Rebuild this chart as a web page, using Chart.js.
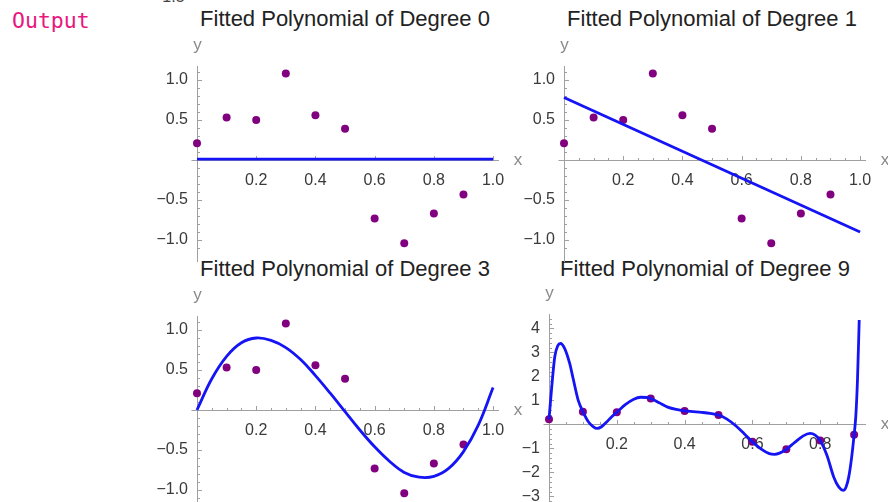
<!DOCTYPE html>
<html>
<head>
<meta charset="utf-8">
<script src="https://cdn.jsdelivr.net/npm/chart.js@4.4.1/dist/chart.umd.min.js"></script>
<style>
    html, body { margin:0; padding:0; background:#fff; }
    body { width:888px; height:502px; overflow:hidden; position:relative; font-family:"Liberation Sans", Arial, sans-serif; }
    .out { position:absolute; left:12px; top:8px; font:21.5px "DejaVu Sans Mono", monospace; color:#e8177f; }
    .cut { position:absolute; left:153px; top:-12px; font:16px "Liberation Sans", Arial, sans-serif; color:#444; }
    .ttl { position:absolute; width:360px; text-align:center; font-size:22px; line-height:26px; color:#222; }
    canvas { position:absolute; }
</style>
</head>
<body>

<div class="out">Output</div>
<div class="cut">−1.5</div>

<div class="ttl" id="title0" style="left:165px; top:6px"></div>
<div class="ttl" id="title1" style="left:532px; top:6px"></div>
<div class="ttl" id="title2" style="left:165px; top:256px"></div>
<div class="ttl" id="title3" style="left:525px; top:256px"></div>

<canvas id="chart0" width="400" height="277" style="left:140px; top:0px"></canvas>
<canvas id="chart1" width="400" height="277" style="left:507px; top:0px"></canvas>
<canvas id="chart2" width="400" height="277" style="left:140px; top:250px"></canvas>
<canvas id="chart3" width="420" height="275" style="left:492px; top:250px"></canvas>

<script>
// =========================
// DATA
// =========================
const titles = [
    "Fitted Polynomial of Degree 0",
    "Fitted Polynomial of Degree 1",
    "Fitted Polynomial of Degree 3",
    "Fitted Polynomial of Degree 9"
]

const xData = [0.0, 0.1, 0.2, 0.3, 0.4, 0.5, 0.6, 0.7, 0.8, 0.9]
const yData = [0.21, 0.53, 0.50, 1.08, 0.56, 0.39, -0.73, -1.04, -0.67, -0.43]

const fit0X = [0, 1]
const fit0Y = [0.01, 0.01]

const fit1X = [0, 1]
const fit1Y = [0.78, -0.90]

const fit3X = [0, 0.05, 0.1, 0.15, 0.2, 0.25, 0.3, 0.35, 0.4, 0.45, 0.5,
               0.55, 0.6, 0.65, 0.7, 0.75, 0.8, 0.85, 0.9, 0.95, 1.0]
const fit3Y = [0, 0.39, 0.67, 0.84, 0.90, 0.87, 0.78, 0.63, 0.43, 0.21, -0.02,
               -0.25, -0.46, -0.64, -0.78, -0.84, -0.83, -0.73, -0.52, -0.19, 0.28]

const fit9X = [0, 0.009, 0.017, 0.026, 0.034, 0.046, 0.061, 0.071, 0.086, 0.1,
               0.116, 0.13, 0.142, 0.155, 0.17, 0.185, 0.2, 0.225, 0.25, 0.27,
               0.29, 0.3, 0.325, 0.35, 0.375, 0.4, 0.425, 0.45, 0.475, 0.5,
               0.525, 0.55, 0.575, 0.6, 0.625, 0.65, 0.665, 0.68, 0.7, 0.725,
               0.75, 0.77, 0.785, 0.8, 0.82, 0.84, 0.855, 0.868, 0.876, 0.884,
               0.892, 0.9, 0.905, 0.91, 0.915]
const fit9Y = [0.21, 1.71, 2.82, 3.28, 3.37, 3.17, 2.54, 1.92, 1.01, 0.53,
               0.11, -0.09, -0.17, -0.10, 0.10, 0.32, 0.50, 0.82, 1.05, 1.13,
               1.12, 1.08, 0.90, 0.72, 0.62, 0.56, 0.53, 0.50, 0.46, 0.39,
               0.22, -0.05, -0.38, -0.73, -1.02, -1.22, -1.25, -1.20, -1.04, -0.75,
               -0.48, -0.38, -0.45, -0.67, -1.30, -2.20, -2.62, -2.75, -2.62, -2.20,
               -1.45, -0.43, 0.35, 1.90, 4.35]

const xTicks = [0.2, 0.4, 0.6, 0.8, 1.0]
const xTicks9 = [0.2, 0.4, 0.6, 0.8]
const yTicks = [-1.0, -0.5, 0.5, 1.0]
const yTicks9 = [-3, -2, -1, 1, 2, 3, 4]

// =========================
// PANEL SETUP
// =========================
// bottom padding has to stay above the y axis label overflow (~19px)
const panels = [
    { fitX: fit0X, fitY: fit0Y, xTicks: xTicks, yTicks: yTicks, yDec: 1, tension: 0,
      xMax: 1.02, yMin: -1.2, yMax: 1.175, xMinor: 0.05, yMinor: 0.1, yMajor: 0.5,
      padding: { left: 17, top: 66, right: 41, bottom: 21 } },
    { fitX: fit1X, fitY: fit1Y, xTicks: xTicks, yTicks: yTicks, yDec: 1, tension: 0,
      xMax: 1.02, yMin: -1.2, yMax: 1.175, xMinor: 0.05, yMinor: 0.1, yMajor: 0.5,
      padding: { left: 17, top: 66, right: 41, bottom: 21 } },
    { fitX: fit3X, fitY: fit3Y, xTicks: xTicks, yTicks: yTicks, yDec: 1, tension: 0.4,
      xMax: 1.02, yMin: -1.2, yMax: 1.175, xMinor: 0.05, yMinor: 0.1, yMajor: 0.5,
      padding: { left: 17, top: 66, right: 41, bottom: 21 } },
    { fitX: fit9X, fitY: fit9Y, xTicks: xTicks9, yTicks: yTicks9, yDec: 0, monotone: true,
      xMax: 0.935, yMin: -3.32, yMax: 4.6, xMinor: 0.05, yMinor: 0.2, yMajor: 1,
      padding: { left: 17, top: 64, right: 46, bottom: 21 } }
]

function fmt(v, dec) {
    return Number(v).toFixed(dec).replace("-", "\u2212")
}

function isMultiple(v, step) {
    const r = Math.abs(v / step - Math.round(v / step))
    return r < 1e-6
}

// axes crossing at the origin, Mathematica style, with major and minor ticks
const mmaAxes = {
    id: "mmaAxes",
    beforeDatasetsDraw(chart, args, opts) {
        const ctx = chart.ctx
        const xs = chart.scales.x
        const ys = chart.scales.y
        const x0 = Math.round(xs.getPixelForValue(0)) + 0.5
        const y0 = Math.round(ys.getPixelForValue(0)) + 0.5

        ctx.save()
        ctx.strokeStyle = "#a0a0a0"
        ctx.lineWidth = 1
        ctx.beginPath()
        ctx.moveTo(x0 - 6, y0)
        ctx.lineTo(xs.right, y0)
        ctx.moveTo(x0, ys.top)
        ctx.lineTo(x0, ys.bottom + 6)

        // x ticks point up
        for (let i = 1; i * opts.xMinor <= xs.max + 1e-9; i++) {
            const v = i * opts.xMinor
            const len = isMultiple(v, 0.2) ? 4.5 : 2.5
            const px = Math.round(xs.getPixelForValue(v)) + 0.5
            ctx.moveTo(px, y0)
            ctx.lineTo(px, y0 - len)
        }
        // y ticks point right
        const yStart = Math.ceil(ys.min / opts.yMinor)
        const yEnd = Math.floor(ys.max / opts.yMinor)
        for (let i = yStart; i <= yEnd; i++) {
            if (i === 0) continue
            const v = i * opts.yMinor
            const len = isMultiple(v, opts.yMajor) ? 4.5 : 2.5
            const py = Math.round(ys.getPixelForValue(v)) + 0.5
            ctx.moveTo(x0, py)
            ctx.lineTo(x0 + len, py)
        }
        ctx.stroke()

        // axis names
        ctx.fillStyle = "#8a8a8a"
        ctx.font = "17px 'Liberation Sans', Arial, sans-serif"
        ctx.textAlign = "center"
        ctx.textBaseline = "middle"
        ctx.fillText("y", x0, ys.top - 21)
        ctx.fillText("x", xs.right + 19, y0)
        ctx.restore()
    }
}

const tickFont = { family: "'Liberation Sans', Arial, sans-serif", size: 16 }

panels.forEach((p, k) => {

    document.getElementById("title" + k).innerText = titles[k]

    const points = xData.map((x, i) => ({ x: x, y: yData[i] }))
    const curve = p.fitX.map((x, i) => ({ x: x, y: p.fitY[i] }))

    new Chart(document.getElementById("chart" + k), {
        type: "scatter",
        data: {
            datasets: [
                {
                    label: "fit",
                    data: curve,
                    showLine: true,
                    pointRadius: 0,
                    borderColor: "#1414f5",
                    borderWidth: 2.8,
                    tension: p.tension || 0,
                    cubicInterpolationMode: p.monotone ? "monotone" : "default",
                    clip: false
                },
                {
                    label: "data",
                    data: points,
                    pointRadius: 4,
                    pointBackgroundColor: "#800080",
                    pointBorderWidth: 0,
                    clip: false
                }
            ]
        },
        options: {
            responsive: false,
            animation: false,
            devicePixelRatio: 1,
            layout: { padding: p.padding },
            plugins: {
                legend: { display: false },
                tooltip: { enabled: false },
                mmaAxes: { xMinor: p.xMinor, yMinor: p.yMinor, yMajor: p.yMajor }
            },
            scales: {
                x: {
                    type: "linear",
                    position: { y: 0 },
                    min: 0,
                    max: p.xMax,
                    grid: { display: false, drawTicks: false },
                    border: { display: false },
                    afterBuildTicks: s => { s.ticks = p.xTicks.map(v => ({ value: v })) },
                    ticks: {
                        autoSkip: false,
                        maxRotation: 0,
                        padding: 11,
                        color: "#3a3a3a",
                        font: tickFont,
                        callback: v => fmt(v, 1)
                    }
                },
                y: {
                    type: "linear",
                    position: "left",
                    min: p.yMin,
                    max: p.yMax,
                    grid: { display: false, drawTicks: false },
                    border: { display: false },
                    afterFit: s => { s.width = 40 },
                    afterBuildTicks: s => { s.ticks = p.yTicks.map(v => ({ value: v })) },
                    ticks: {
                        autoSkip: false,
                        padding: 9,
                        color: "#3a3a3a",
                        font: tickFont,
                        callback: v => fmt(v, p.yDec)
                    }
                }
            }
        },
        plugins: [mmaAxes]
    })
})
</script>
</body>
</html>
